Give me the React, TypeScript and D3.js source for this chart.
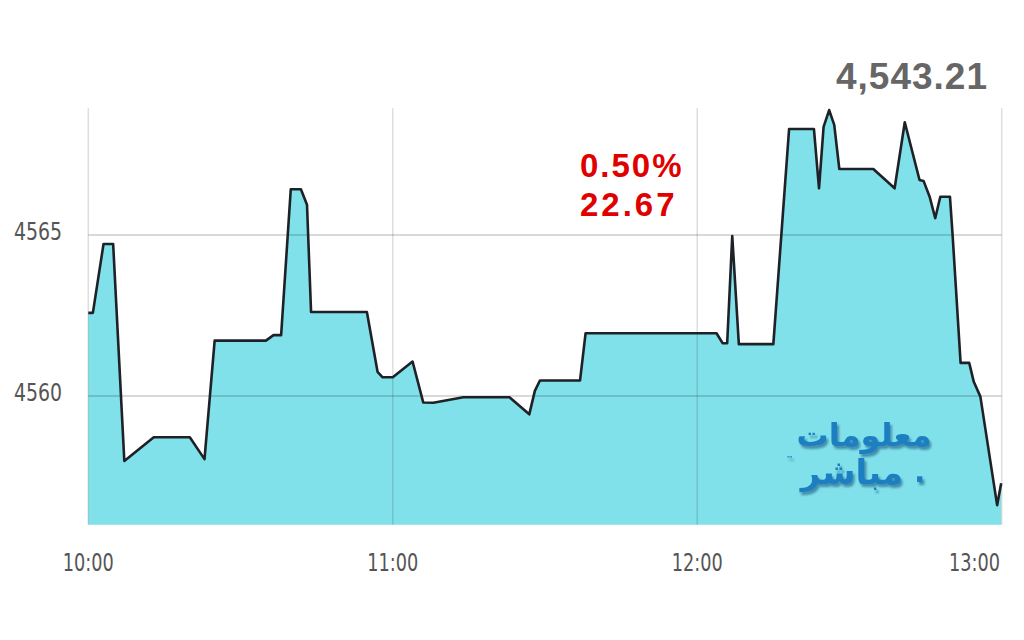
import React from "react";
import * as d3 from "d3";

// minutes after 10:00
const minutes: number[] = [
  0, 0.9, 3.0, 4.9, 7.1, 12.9, 20.0, 22.9, 24.9, 35.0, 36.5, 38.0, 39.9, 41.9, 43.1, 43.9,
  54.9, 57.0, 58.0, 60.0, 63.9, 66.0, 68.0, 73.9, 83.0, 86.9, 88.0, 89.0, 96.9, 98.0,
  123.8, 125.0, 125.9, 126.9, 128.2, 135.0, 138.1, 143.0, 144.0, 144.9, 146.0, 147.0,
  148.0, 154.7, 158.9, 160.9, 163.8, 164.6, 165.8, 166.9, 167.9, 169.8, 170.3, 171.9,
  173.6, 174.5, 175.8, 179.1, 179.9,
];
const values: number[] = [
  4562.58, 4562.58, 4564.72, 4564.72, 4557.98, 4558.72, 4558.72, 4558.04, 4561.72, 4561.72,
  4561.89, 4561.89, 4566.42, 4566.42, 4565.94, 4562.61, 4562.61, 4560.75, 4560.58, 4560.58,
  4561.07, 4559.8, 4559.79, 4559.96, 4559.96, 4559.43, 4560.16, 4560.48, 4560.48, 4561.95,
  4561.95, 4561.64, 4561.64, 4564.97, 4561.61, 4561.61, 4568.29, 4568.29, 4566.45, 4568.36,
  4568.88, 4568.42, 4567.05, 4567.05, 4566.45, 4568.5, 4566.71, 4566.68, 4566.19, 4565.52,
  4566.19, 4566.19, 4565.06, 4561.03, 4561.03, 4560.44, 4559.98, 4556.61, 4557.29,
];
const xTickMinutes: number[] = [0, 60, 120, 180];
const xTickLabels: string[] = ["10:00", "11:00", "12:00", "13:00"];
const yTicks: number[] = [4560, 4565];
const lastValue = "4,543.21";
const changePct = "0.50%";
const changeAbs = "22.67";
const brandTop = "معلومات";
const brandBottom = "مباشر";

export default function App() {
  const W = 1024;
  const H = 640;
  const x = d3.scaleLinear().domain([0, 180]).range([88.3, 1001.7]);
  const y = d3.scaleLinear().domain([4556, 4569]).range([524.8, 106.2]);
  const pts = minutes.map((m, i) => [m, values[i]] as [number, number]);
  const area = d3
    .area<[number, number]>()
    .x((d) => x(d[0]))
    .y0(y(4556))
    .y1((d) => y(d[1]));
  const line = d3
    .line<[number, number]>()
    .x((d) => x(d[0]))
    .y((d) => y(d[1]));
  const tickFont = "'DejaVu Sans Condensed', 'Liberation Sans Narrow', 'Open Sans', sans-serif";
  const top = 108;
  const bottom = y(4556);
  return (
    <svg
      width={W}
      height={H}
      style={{ position: "absolute", left: 0, top: 0, background: "#fff" }}
    >
      <defs>
        <filter id="shadow" x="-10%" y="-20%" width="120%" height="140%">
          <feDropShadow dx={2} dy={3} stdDeviation={1.2} floodColor="#0b4a75" floodOpacity={0.55} />
        </filter>
      </defs>
      <rect x={0} y={0} width={W} height={H} fill="#fff" />
      <path d={area(pts) || ""} fill="#80e1ea" />
      {/* grid */}
      {xTickMinutes.map((m) => (
        <line
          key={"vx" + m}
          x1={x(m)}
          x2={x(m)}
          y1={top}
          y2={bottom}
          stroke="rgba(0,0,0,0.13)"
          strokeWidth={1.5}
        />
      ))}
      {yTicks.map((v) => (
        <line
          key={"hy" + v}
          x1={x(0)}
          x2={x(180)}
          y1={y(v)}
          y2={y(v)}
          stroke="rgba(0,0,0,0.2)"
          strokeWidth={1.6}
        />
      ))}
      <path
        d={line(pts) || ""}
        fill="none"
        stroke="#1e2226"
        strokeWidth={2.6}
        strokeLinejoin="round"
      />
      {/* y labels */}
      {yTicks.map((v) => (
        <text
          key={"yl" + v}
          x={14}
          y={y(v) + 5}
          fontFamily={tickFont}
          fontSize={25}
          textLength={48}
          lengthAdjust="spacingAndGlyphs"
          fill="#555"
        >
          {v}
        </text>
      ))}
      {/* x labels */}
      {xTickMinutes.map((m, i) => {
        const last = i === xTickMinutes.length - 1;
        const x0 = last ? 1000 - 51 : x(m) - 25.5;
        return (
          <text
            key={"xl" + m}
            x={x0}
            y={571}
            fontFamily={tickFont}
            fontSize={25}
            textLength={51}
            lengthAdjust="spacingAndGlyphs"
            fill="#555"
          >
            {xTickLabels[i]}
          </text>
        );
      })}
      {/* title value */}
      <text
        x={988}
        y={89}
        textAnchor="end"
        fontFamily="'Liberation Sans', Arial, sans-serif"
        fontWeight="bold"
        fontSize={37}
        letterSpacing={1}
        fill="#666"
      >
        {lastValue}
      </text>
      {/* change */}
      <text
        x={580}
        y={177}
        fontFamily="'Liberation Sans', Arial, sans-serif"
        fontWeight="bold"
        fontSize={33}
        letterSpacing={2}
        fill="#e00000"
      >
        {changePct}
      </text>
      <text
        x={580}
        y={216}
        fontFamily="'Liberation Sans', Arial, sans-serif"
        fontWeight="bold"
        fontSize={33}
        letterSpacing={3}
        fill="#e00000"
      >
        {changeAbs}
      </text>
      {/* watermark */}
      <g fontFamily="'DejaVu Sans', 'Noto Sans', sans-serif" fontWeight="bold" filter="url(#shadow)">
        <text x={864} y={446} textAnchor="middle" fontSize={32} fill="#1f7fc2" direction="rtl">
          {brandTop}
        </text>
        <text x={852} y={484} textAnchor="middle" fontSize={34} fill="#1f7fc2" direction="rtl">
          {brandBottom}
        </text>
        <text x={914} y={482} fontSize={30} fill="#1f7fc2">.</text>
        <text x={786} y={462} fontSize={8} fill="#1f7fc2" fontWeight="normal">™</text>
      </g>
    </svg>
  );
}
